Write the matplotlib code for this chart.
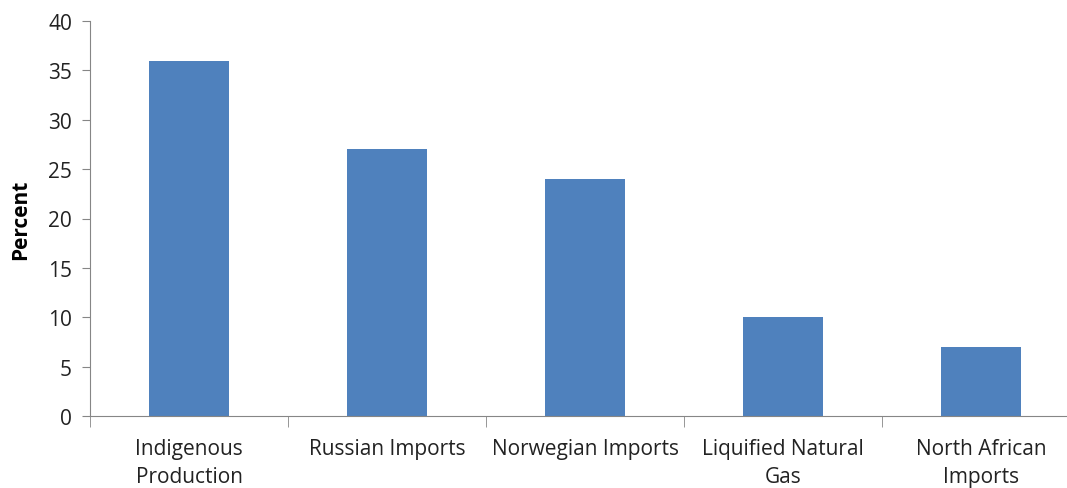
import matplotlib.pyplot as plt

sources = ["Indigenous\nProduction", "Russian Imports", "Norwegian Imports",
           "Liquified Natural\nGas", "North African\nImports"]
shares = [36, 27, 24, 10, 7]
y_ticks = [0, 5, 10, 15, 20, 25, 30, 35, 40]

plt.rcParams["font.family"] = ["Open Sans", "DejaVu Sans"]

fig = plt.figure(figsize=(10.67, 4.89), dpi=100)
# axes runs slightly past the right edge of the figure
ax = fig.add_axes([90 / 1067, (489 - 417) / 489, 990 / 1067, 395 / 489])

x = range(len(sources))
ax.bar(x, shares, width=0.405, color="#4F81BD", zorder=2)

ax.set_xlim(-0.5, len(sources) - 0.5)
ax.set_ylim(0, 40)
ax.set_yticks(y_ticks)
ax.tick_params(axis="y", length=6, color="#868686", labelsize=15, pad=7, labelcolor="#222222")

# category labels centred, ticks on the boundaries
ax.set_xticks(list(x))
ax.set_xticklabels(sources, fontsize=15, color="#222222", linespacing=1.45)
ax.tick_params(axis="x", length=0, pad=16)
ax.set_xticks([i - 0.5 for i in range(len(sources) + 1)], minor=True)
ax.tick_params(axis="x", which="minor", length=8, color="#868686")

for side in ["top", "right"]:
    ax.spines[side].set_visible(False)
for side in ["left", "bottom"]:
    ax.spines[side].set_color("#868686")

ax.set_ylabel("Percent", fontsize=15, fontweight="bold", labelpad=12)

fig.savefig("out.png", dpi=100)
